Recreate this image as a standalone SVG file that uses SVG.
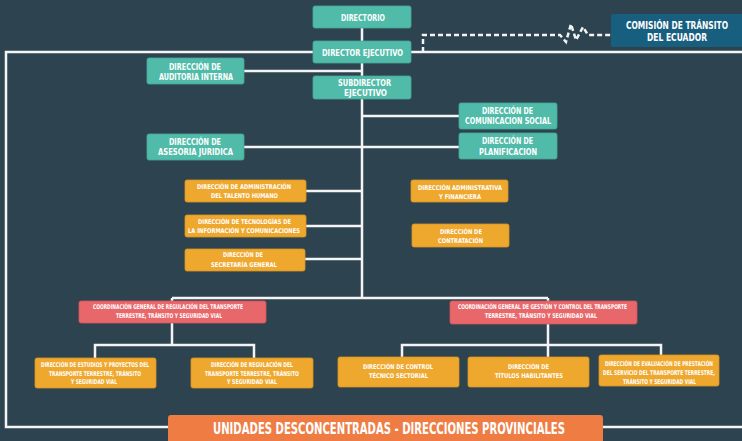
<svg xmlns="http://www.w3.org/2000/svg" width="742" height="441" viewBox="0 0 742 441">
<style>
.bg{fill:#2d4350}
.ln{fill:none;stroke:#f4f4f4;stroke-width:2.5}
.dash{fill:none;stroke:#f4f4f4;stroke-width:2.5;stroke-dasharray:5 3}
.teal{fill:#4fbba8;stroke:#46a897;stroke-width:0.8}
.blue{fill:#175e7f}
.org{fill:#efa82e;stroke:#d9951f;stroke-width:0.8}
.red{fill:#e8676a;stroke:#d35558;stroke-width:0.8}
.big{fill:#ef7d43}
text{font-family:"DejaVu Sans Condensed","Liberation Sans Narrow","DejaVu Sans",sans-serif;font-weight:bold;fill:#ffffff;text-anchor:middle}
.s1{font-size:9.5px}
.s2{font-size:8px}
.s3{font-size:6.5px}
.s4{font-size:10.5px}
.s5{font-size:15px}
</style>
<rect class="bg" x="0" y="0" width="742" height="441"/>
<g id="connectors">
<path class="ln" d="M313,52 H6 V427 H170"/>
<path class="ln" d="M411,52 H742"/>
<path class="ln" d="M600,427 H742"/>
<path class="ln" d="M362,28 V41 M362,63 V76 M362,99 V298"/>
<path class="ln" d="M244,71 H362"/>
<path class="ln" d="M244,147 H459"/>
<path class="ln" d="M362,116 H459"/>
<path class="ln" d="M306,191 H362 M306,226 H362 M305,259 H362"/>
<path class="ln" d="M172,298 H548 M172,298 V345 M548,298 V358"/>
<path class="ln" d="M95,358 V345 H254 V358"/>
<path class="ln" d="M402,357 V345 H661 V355"/>
<path class="dash" d="M423,52 V35 H560 L566,42 L571,24 L576,40 L583,27 L588,35 H611"/>
</g>
<g id="directorio"><rect class="teal" x="313" y="6" width="98" height="22" rx="2"/><text class="s1" x="363" y="21" textLength="44" lengthAdjust="spacingAndGlyphs">DIRECTORIO</text></g>
<g id="director-ejecutivo"><rect class="teal" x="313" y="41" width="98" height="22" rx="2"/><text class="s1" x="362.5" y="56" textLength="81" lengthAdjust="spacingAndGlyphs">DIRECTOR EJECUTIVO</text></g>
<g id="subdirector-ejecutivo"><rect class="teal" x="313" y="76" width="98" height="23" rx="2"/><text class="s1" x="364.5" y="86" textLength="53" lengthAdjust="spacingAndGlyphs">SUBDIRECTOR</text><text class="s1" x="365.5" y="96" textLength="43" lengthAdjust="spacingAndGlyphs">EJECUTIVO</text></g>
<g id="comision"><rect class="blue" x="611" y="14" width="140" height="33" rx="2"/><text class="s4" x="677" y="28.5" textLength="102" lengthAdjust="spacingAndGlyphs">COMISIÓN DE TRÁNSITO</text><text class="s4" x="677" y="41" textLength="60" lengthAdjust="spacingAndGlyphs">DEL ECUADOR</text></g>
<g id="auditoria"><rect class="teal" x="147" y="58" width="97" height="26" rx="2"/><text class="s2" x="195" y="70" textLength="52" lengthAdjust="spacingAndGlyphs">DIRECCIÓN DE</text><text class="s2" x="196" y="80" textLength="74" lengthAdjust="spacingAndGlyphs">AUDITORIA INTERNA</text></g>
<g id="asesoria"><rect class="teal" x="147" y="134" width="97" height="26" rx="2"/><text class="s2" x="195" y="145" textLength="52" lengthAdjust="spacingAndGlyphs">DIRECCIÓN DE</text><text class="s2" x="195.5" y="155" textLength="75" lengthAdjust="spacingAndGlyphs">ASESORIA JURIDICA</text></g>
<g id="comunicacion"><rect class="teal" x="459" y="103" width="98" height="26" rx="2"/><text class="s2" x="507.5" y="114" textLength="51" lengthAdjust="spacingAndGlyphs">DIRECCIÓN DE</text><text class="s2" x="508" y="124" textLength="86" lengthAdjust="spacingAndGlyphs">COMUNICACION SOCIAL</text></g>
<g id="planificacion"><rect class="teal" x="459" y="133" width="98" height="26" rx="2"/><text class="s2" x="507.5" y="144" textLength="51" lengthAdjust="spacingAndGlyphs">DIRECCIÓN DE</text><text class="s2" x="508" y="155" textLength="58" lengthAdjust="spacingAndGlyphs">PLANIFICACION</text></g>
<g id="talento"><rect class="org" x="185" y="180" width="121" height="22" rx="2"/><text class="s3" x="244" y="189" textLength="94" lengthAdjust="spacingAndGlyphs">DIRECCIÓN DE ADMINISTRACIÓN</text><text class="s3" x="244.5" y="198" textLength="67" lengthAdjust="spacingAndGlyphs">DEL TALENTO HUMANO</text></g>
<g id="tecnologias"><rect class="org" x="185" y="215" width="121" height="22" rx="2"/><text class="s3" x="244.5" y="224" textLength="93" lengthAdjust="spacingAndGlyphs">DIRECCIÓN DE TECNOLOGÍAS DE</text><text class="s3" x="244" y="233" textLength="112" lengthAdjust="spacingAndGlyphs">LA INFORMACIÓN Y COMUNICACIONES</text></g>
<g id="secretaria"><rect class="org" x="185" y="249" width="120" height="22" rx="2"/><text class="s3" x="243" y="257" textLength="40" lengthAdjust="spacingAndGlyphs">DIRECCIÓN DE</text><text class="s3" x="244" y="267" textLength="66" lengthAdjust="spacingAndGlyphs">SECRETARÍA GENERAL</text></g>
<g id="administrativa"><rect class="org" x="411" y="180" width="97" height="22" rx="2"/><text class="s3" x="460" y="190" textLength="84" lengthAdjust="spacingAndGlyphs">DIRECCIÓN ADMINISTRATIVA</text><text class="s3" x="460" y="199" textLength="42" lengthAdjust="spacingAndGlyphs">Y FINANCIERA</text></g>
<g id="contratacion"><rect class="org" x="412" y="224" width="97" height="23" rx="2"/><text class="s3" x="461" y="234" textLength="42" lengthAdjust="spacingAndGlyphs">DIRECCIÓN DE</text><text class="s3" x="460.5" y="243" textLength="45" lengthAdjust="spacingAndGlyphs">CONTRATACIÓN</text></g>
<g id="coord-regulacion"><rect class="red" x="79" y="301" width="187" height="22" rx="2"/><text class="s3" x="168" y="308.5" textLength="150" lengthAdjust="spacingAndGlyphs">COORDINACIÓN GENERAL DE REGULACIÓN DEL TRANSPORTE</text><text class="s3" x="169" y="318" textLength="106" lengthAdjust="spacingAndGlyphs">TERRESTRE, TRÁNSITO Y SEGURIDAD VIAL</text></g>
<g id="coord-gestion"><rect class="red" x="450" y="301" width="187" height="23" rx="2"/><text class="s3" x="542.5" y="308.5" textLength="169" lengthAdjust="spacingAndGlyphs">COORDINACIÓN GENERAL DE GESTIÓN Y CONTROL DEL TRANSPORTE</text><text class="s3" x="541" y="318" textLength="112" lengthAdjust="spacingAndGlyphs">TERRESTRE, TRÁNSITO Y SEGURIDAD VIAL</text></g>
<g id="estudios"><rect class="org" x="35" y="358" width="121" height="30" rx="2"/><text class="s3" x="95" y="367" textLength="108" lengthAdjust="spacingAndGlyphs">DIRECCIÓN DE ESTUDIOS Y PROYECTOS DEL</text><text class="s3" x="95" y="375.5" textLength="92" lengthAdjust="spacingAndGlyphs">TRANSPORTE TERRESTRE, TRÁNSITO</text><text class="s3" x="94" y="384" textLength="46" lengthAdjust="spacingAndGlyphs">Y SEGURIDAD VIAL</text></g>
<g id="regulacion"><rect class="org" x="191" y="358" width="122" height="30" rx="2"/><text class="s3" x="252" y="367" textLength="82" lengthAdjust="spacingAndGlyphs">DIRECCIÓN DE REGULACIÓN DEL</text><text class="s3" x="252" y="375.5" textLength="94" lengthAdjust="spacingAndGlyphs">TRANSPORTE TERRESTRE, TRÁNSITO</text><text class="s3" x="252" y="384" textLength="50" lengthAdjust="spacingAndGlyphs">Y SEGURIDAD VIAL</text></g>
<g id="control"><rect class="org" x="338" y="357" width="121" height="30" rx="2"/><text class="s3" x="398" y="369" textLength="70" lengthAdjust="spacingAndGlyphs">DIRECCIÓN DE CONTROL</text><text class="s3" x="398.5" y="378" textLength="59" lengthAdjust="spacingAndGlyphs">TÉCNICO SECTORIAL</text></g>
<g id="titulos"><rect class="org" x="468" y="357" width="121" height="30" rx="2"/><text class="s3" x="528.5" y="369" textLength="41" lengthAdjust="spacingAndGlyphs">DIRECCIÓN DE</text><text class="s3" x="529" y="378" textLength="68" lengthAdjust="spacingAndGlyphs">TÍTULOS HABILITANTES</text></g>
<g id="evaluacion"><rect class="org" x="599" y="355" width="120" height="31" rx="2"/><text class="s3" x="659" y="366" textLength="108" lengthAdjust="spacingAndGlyphs">DIRECCIÓN DE EVALUACIÓN DE PRESTACIÓN</text><text class="s3" x="659" y="375" textLength="112" lengthAdjust="spacingAndGlyphs">DEL SERVICIO DEL TRANSPORTE TERRESTRE,</text><text class="s3" x="659.5" y="383.5" textLength="73" lengthAdjust="spacingAndGlyphs">TRÁNSITO Y SEGURIDAD VIAL</text></g>
<g id="unidades"><rect class="big" x="168" y="415" width="435" height="32" rx="3"/><text class="s5" x="389" y="434" textLength="352" lengthAdjust="spacingAndGlyphs">UNIDADES DESCONCENTRADAS - DIRECCIONES PROVINCIALES</text></g>
</svg>
